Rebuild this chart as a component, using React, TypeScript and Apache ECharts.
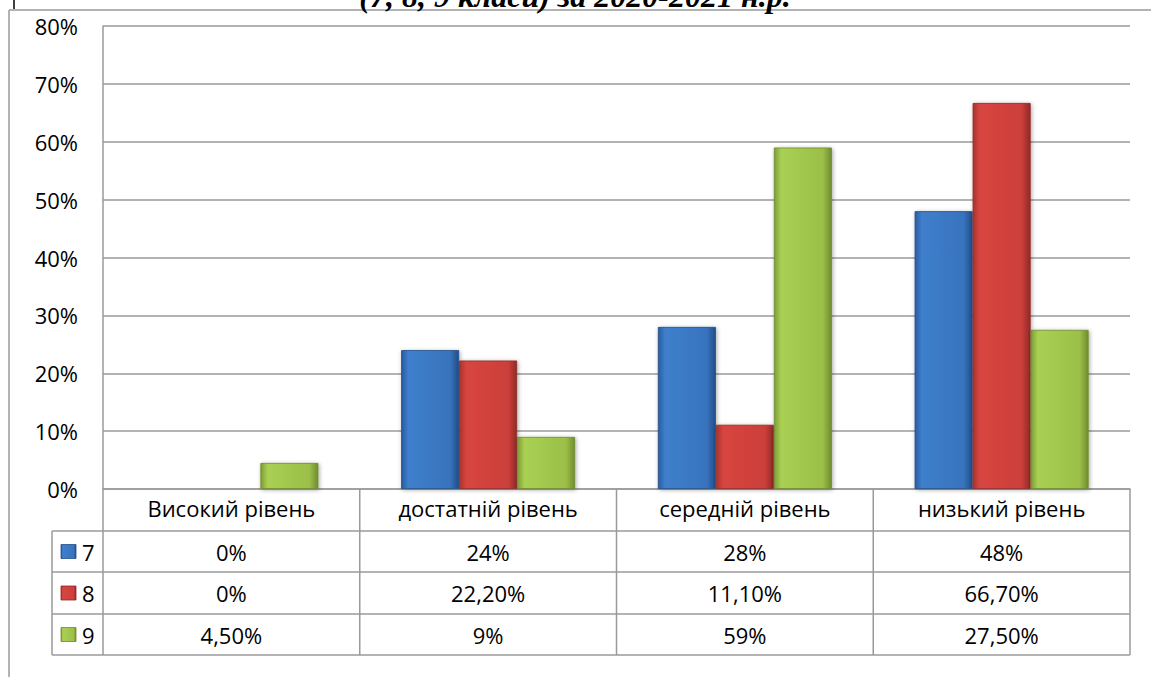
import React, { useEffect, useRef } from "react";
import * as echarts from "echarts";

const categories = ["Високий рівень", "достатній рівень", "середній рівень", "низький рівень"];
const seriesNames = ["7", "8", "9"];
const values7 = [0, 24, 28, 48];
const values8 = [0, 22.2, 11.1, 66.7];
const values9 = [4.5, 9, 59, 27.5];
const labels7 = ["0%", "24%", "28%", "48%"];
const labels8 = ["0%", "22,20%", "11,10%", "66,70%"];
const labels9 = ["4,50%", "9%", "59%", "27,50%"];
const yMin = 0;
const yMax = 80;
const yStep = 10;
const titleText = "(7, 8, 9 класи) за 2020-2021 н.р.";

const FONT = "'Open Sans', 'Noto Sans', sans-serif";
const FS = 22;
const GL = 103;
const GR = 1130;
const GT = 26;
const GB = 489;
const ROWS = [531, 572, 614, 655];
const LEG_L = 52;
const LINE = "#9a9a9a";

function grad(stops: string[]) {
  return new echarts.graphic.LinearGradient(0, 0, 1, 0, [
    { offset: 0, color: stops[0] },
    { offset: 0.12, color: stops[1] },
    { offset: 0.85, color: stops[2] },
    { offset: 1, color: stops[3] },
  ]);
}

const palettes = [
  ["#285c9f", "#3f7fcc", "#3873bd", "#214e8a"],
  ["#a8332f", "#d84540", "#cc3f3a", "#8f2a27"],
  ["#7e9c36", "#a9d053", "#9bbf48", "#718c2f"],
];
const borders = ["#224e88", "#8f2a27", "#6f8a2e"];

export default function App() {
  const ref = useRef<HTMLDivElement>(null);
  useEffect(() => {
    document.body.style.margin = "0";
    const chart = echarts.init(ref.current!, null, { renderer: "svg" });
    const allValues = [values7, values8, values9];
    const allLabels = [labels7, labels8, labels9];
    const catW = (GR - GL) / categories.length;
    const graphic: any[] = [];
    graphic.push({ type: "line", shape: { x1: 9, y1: 10, x2: 1151, y2: 10 }, style: { stroke: "#9a9a9a", lineWidth: 1.5 } });
    graphic.push({ type: "line", shape: { x1: 9, y1: 10, x2: 9, y2: 677 }, style: { stroke: "#9a9a9a", lineWidth: 1.5 } });
    graphic.push({ type: "line", shape: { x1: 14, y1: 0, x2: 14, y2: 9 }, style: { stroke: "#000", lineWidth: 1.5 } });
    graphic.push({
      type: "text",
      x: 575,
      y: 12,
      style: {
        text: titleText,
        font: "italic bold 32px 'Liberation Serif', serif",
        fill: "#000",
        align: "center",
        verticalAlign: "bottom",
      },
    });
    ROWS.forEach((y) => {
      graphic.push({ type: "line", shape: { x1: LEG_L, y1: y, x2: GR, y2: y }, style: { stroke: LINE, lineWidth: 1.5 } });
    });
    graphic.push({ type: "line", shape: { x1: LEG_L, y1: ROWS[0], x2: LEG_L, y2: ROWS[3] }, style: { stroke: LINE, lineWidth: 1.5 } });
    for (let i = 0; i <= categories.length; i++) {
      const x = GL + i * catW;
      graphic.push({ type: "line", shape: { x1: x, y1: GB, x2: x, y2: ROWS[3] }, style: { stroke: LINE, lineWidth: 1.5 } });
    }
    for (let s = 0; s < 3; s++) {
      const cy = (ROWS[s] + ROWS[s + 1]) / 2;
      for (let c = 0; c < categories.length; c++) {
        graphic.push({
          type: "text",
          x: GL + (c + 0.5) * catW,
          y: cy,
          style: { text: allLabels[s][c], font: `${FS}px ${FONT}`, fill: "#000", align: "center", verticalAlign: "middle" },
        });
      }
      graphic.push({
        type: "rect",
        shape: { x: 61, y: cy - 7, width: 15, height: 14 },
        style: { fill: grad(palettes[s]), stroke: borders[s], lineWidth: 0.8 },
      });
      graphic.push({
        type: "text",
        x: 82,
        y: cy,
        style: { text: seriesNames[s], font: `${FS}px ${FONT}`, fill: "#000", align: "left", verticalAlign: "middle" },
      });
    }

    chart.setOption({
      animation: false,
      grid: { left: GL, top: GT, width: GR - GL, height: GB - GT, containLabel: false },
      xAxis: {
        type: "category",
        data: categories,
        axisLine: { show: true, lineStyle: { color: LINE, width: 1.5 } },
        axisTick: { show: false },
        axisLabel: { fontSize: FS, fontFamily: FONT, color: "#000", margin: 8, interval: 0 },
        splitLine: { show: false },
      },
      yAxis: {
        type: "value",
        min: yMin,
        max: yMax,
        interval: yStep,
        axisLine: { show: true, lineStyle: { color: LINE, width: 1.5 } },
        axisTick: { show: false },
        axisLabel: { fontSize: FS, fontFamily: FONT, color: "#000", margin: 25, formatter: "{value}%" },
        splitLine: { show: true, lineStyle: { color: LINE, width: 1.5 } },
      },
      series: seriesNames.map((name, i) => ({
        name,
        type: "bar",
        data: allValues[i].map((v) =>
          v === 0 ? { value: v, itemStyle: { borderWidth: 0, opacity: 0 } } : v
        ),
        barWidth: 58,
        barGap: "0%",
        itemStyle: {
          color: grad(palettes[i]),
          borderColor: borders[i],
          borderWidth: 0.8,
          shadowColor: "rgba(0,0,0,0.35)",
          shadowBlur: 4,
          shadowOffsetX: 1,
          shadowOffsetY: 1,
        },
      })),
      graphic,
    });
    return () => chart.dispose();
  }, []);
  return <div ref={ref} style={{ width: 1151, height: 677 }} />;
}
